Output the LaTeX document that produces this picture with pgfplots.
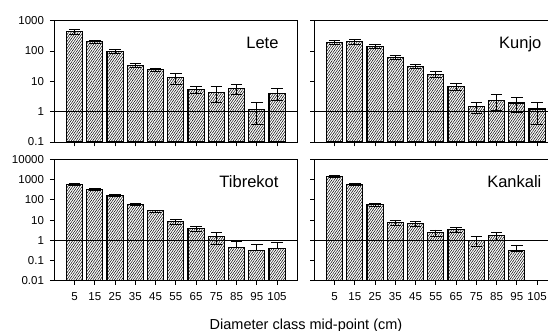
\documentclass[border=0pt]{standalone}
\usepackage{fontspec}
\setmainfont{Liberation Sans}
\usepackage{pgfplots}
\pgfplotsset{compat=1.18}
\usetikzlibrary{patterns.meta}

\tikzset{mylab/.style={anchor=base east, font=\fontsize{16.5}{18}\selectfont}}
\pgfplotsset{
  every axis/.append style={
    scale only axis, width=243pt, height=121.3pt,
    xmin=-5, xmax=115,
    xtick={5,15,25,35,45,55,65,75,85,95,105},
    tick align=outside, major tick length=4.3pt,
    xtick pos=bottom, ytick pos=left,
    axis line style={line width=0.8pt},
    major tick style={black, line width=0.8pt},
    tick label style={font=\fontsize{11.5}{13}\selectfont},
    yticklabel style={xshift=-2.5pt},
    xticklabel style={yshift=-4pt},
  },
  mybar/.style={ybar, bar width=8, draw=black, line width=1.1pt,
    pattern={Lines[angle=55,distance=1.95pt,line width=0.5pt]},
    error bars/y dir=both, error bars/y explicit,
    error bars/error bar style={line width=0.8pt, black},
    error bars/error mark options={rotate=90, mark size=5.8pt, line width=0.8pt, black}},
  myline/.style={sharp plot, black, line width=0.8pt, no marks, forget plot},
}

\begin{document}
\begin{tikzpicture}
% Lete
\begin{axis}[ymode=log, log origin=infty, yminorticks=false, at={(54.3pt,189pt)},
  ymin=0.1, ymax=1000, ytick={0.1,1,10,100,1000}, yticklabels={0.1,1,10,100,1000},
  xticklabels={}]
\addplot[mybar] coordinates {
(5,445) +- (0,85)
(15,203) +- (0,22)
(25,97.5) +- (0,13)
(35,33.7) +- (0,4.5)
(45,24.2) +- (0,3.5)
(55,13.5) +- (0,5.3)
(65,5.45) +- (0,1.3)
(75,4.34) +- (0,2.3)
(85,5.73) +- (0,2.0)
(95,1.19) +- (0,0.8)
(105,4.02) +- (0,1.7)
};
\addplot[myline] coordinates {(-5,1) (115,1)};
\node[mylab] at (rel axis cs:0.937,0.769) {Lete};
\end{axis}
% Kunjo
\begin{axis}[ymode=log, log origin=infty, yminorticks=false, at={(314.3pt,189pt)},
  ymin=0.1, ymax=1000, ytick={0.1,1,10,100,1000}, yticklabels={},
  xticklabels={}]
\addplot[mybar] coordinates {
(5,193) +- (0,32)
(15,208) +- (0,40)
(25,143) +- (0,20)
(35,61.8) +- (0,8)
(45,31.2) +- (0,5)
(55,17) +- (0,4)
(65,6.84) +- (0,1.7)
(75,1.46) +- (0,0.6)
(85,2.36) +- (0,1.25)
(95,1.93) +- (0,0.95)
(105,1.22) +- (0,0.85)
};
\addplot[myline] coordinates {(-5,1) (115,1)};
\node[mylab] at (rel axis cs:0.949,0.769) {Kunjo};
\end{axis}
% Tibrekot
\begin{axis}[ymode=log, log origin=infty, yminorticks=false, at={(54.3pt,50.3pt)},
  ymin=0.01, ymax=10000, ytick={0.01,0.1,1,10,100,1000,10000},
  yticklabels={0.01,0.1,1,10,100,1000,10000},
  xticklabels={5,15,25,35,45,55,65,75,85,95,105}]
\addplot[mybar] coordinates {
(5,588) +- (0,90)
(15,320) +- (0,35)
(25,162) +- (0,18)
(35,58) +- (0,6)
(45,28.2) +- (0,3)
(55,8.4) +- (0,2)
(65,3.78) +- (0,1.1)
(75,1.52) +- (0,0.9)
(85,0.45) += (0,0.45) -= (0,0)
(95,0.32) += (0,0.3) -= (0,0)
(105,0.40) += (0,0.37) -= (0,0)
};
\addplot[myline] coordinates {(-5,1) (115,1)};
\node[mylab] at (rel axis cs:0.937,0.766) {Tibrekot};
\end{axis}
% Kankali
\begin{axis}[ymode=log, log origin=infty, yminorticks=false, at={(314.3pt,50.3pt)},
  ymin=0.01, ymax=10000, ytick={0.01,0.1,1,10,100,1000,10000}, yticklabels={},
  xticklabels={5,15,25,35,45,55,65,75,85,95,105}]
\addplot[mybar] coordinates {
(5,1462) +- (0,175)
(15,588) +- (0,45)
(25,58) +- (0,9)
(35,7.48) +- (0,1.9)
(45,6.67) +- (0,1.7)
(55,2.39) +- (0,0.85)
(65,3.37) +- (0,0.86)
(75,1.0) +- (0,0.5)
(85,1.70) +- (0,0.7)
(95,0.297) += (0,0.29) -= (0,0)
};
\addplot[myline] coordinates {(-5,1) (115,1)};
\node[mylab] at (rel axis cs:0.949,0.766) {Kankali};
\end{axis}
\node[anchor=base, font=\fontsize{14.5}{16}\selectfont] at (306pt,1.7pt) {Diameter class mid-point (cm)};
\pgfresetboundingbox
\path (0pt,0pt) rectangle (548pt,331pt);
\end{tikzpicture}
\end{document}
